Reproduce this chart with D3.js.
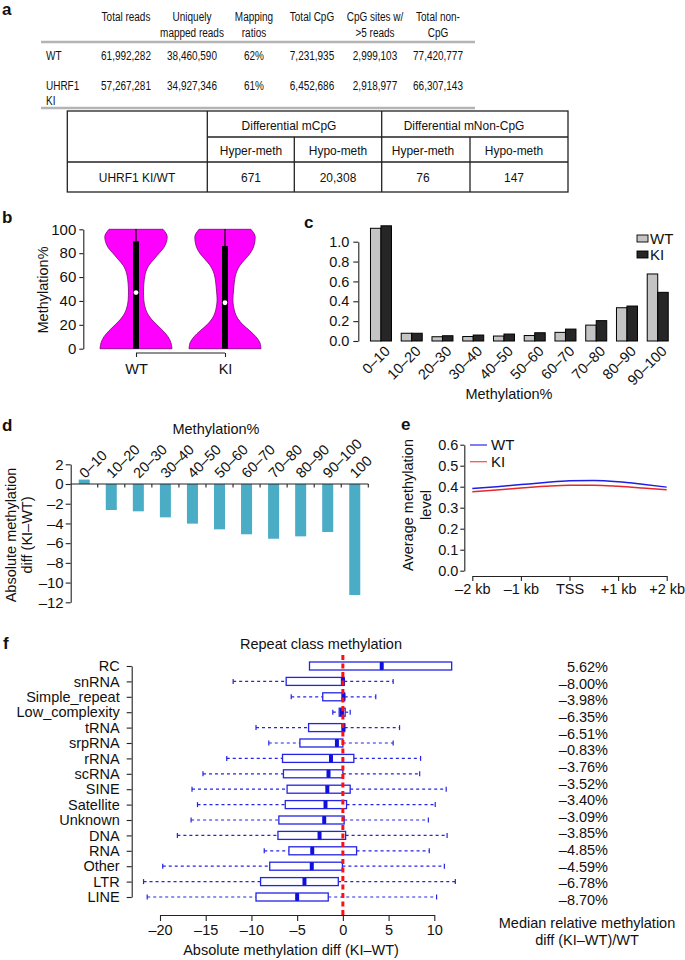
<!DOCTYPE html>
<html><head><meta charset="utf-8">
<script src="https://cdn.jsdelivr.net/npm/d3@7"></script>
<style>
body{margin:0;background:#fff}
svg{display:block;font-family:"Liberation Sans",Arial,Helvetica,sans-serif}
</style>
</head><body>
<svg id="c" width="685" height="960"></svg>
<script>
// ---------------- DATA ----------------
// Panel a: summary tables
const tableHeaders = [["Total reads"], ["Uniquely", "mapped reads"], ["Mapping", "ratios"], ["Total CpG"], ["CpG sites w/", ">5 reads"], ["Total non-", "CpG"]];
const tableWT = ["61,992,282", "38,460,590", "62%", "7,231,935", "2,999,103", "77,420,777"];
const tableKI = ["57,267,281", "34,927,346", "61%", "6,452,686", "2,918,977", "66,307,143"];
const diffGroups = ["Differential mCpG", "Differential mNon-CpG"];
const diffSub = ["Hyper-meth", "Hypo-meth", "Hyper-meth", "Hypo-meth"];
const diffRowLabel = "UHRF1 KI/WT";
const diffCounts = ["671", "20,308", "76", "147"];

// Panel b: violins (relative density profile along methylation %)
const violinGroups = ["WT", "KI"];
const violinLevels = [0, 5, 10, 15, 20, 25, 30, 35, 40, 50, 60, 65, 70, 75, 80, 85, 90, 95, 100];
const violinWT = [1.00, 0.97, 0.89, 0.75, 0.58, 0.42, 0.31, 0.25, 0.22, 0.21, 0.24, 0.28, 0.36, 0.50, 0.64, 0.78, 0.85, 0.86, 0.75];
const violinKI = [1.00, 0.97, 0.86, 0.69, 0.50, 0.36, 0.28, 0.24, 0.22, 0.24, 0.28, 0.33, 0.42, 0.56, 0.70, 0.79, 0.83, 0.83, 0.72];
const violinQ3 = [90, 86];
const violinMedian = [47, 38.5];
const violinMax = [100, 100];

// Panel c: methylation distribution
const histCats = ["0–10", "10–20", "20–30", "30–40", "40–50", "50–60", "60–70", "70–80", "80–90", "90–100"];
const histWT = [1.135, 0.078, 0.043, 0.045, 0.050, 0.055, 0.087, 0.160, 0.335, 0.675];
const histKI = [1.160, 0.078, 0.053, 0.060, 0.070, 0.083, 0.120, 0.205, 0.352, 0.490];
const histTicks = [0, 0.2, 0.4, 0.6, 0.8, 1.0];

// Panel d: absolute methylation difference
const diffCats = ["0–10", "10–20", "20–30", "30–40", "40–50", "50–60", "60–70", "70–80", "80–90", "90–100", "100"];
const diffVals = [0.45, -2.64, -2.77, -3.38, -4.02, -4.60, -5.10, -5.55, -5.31, -4.87, -11.26];
const diffTicks = [2, 0, -2, -4, -6, -8, -10, -12];

// Panel e: TSS profile
const profilePos = [-2, -1.5, -1, -0.5, 0, 0.5, 1, 1.5, 2];
const profileWT = [0.392, 0.400, 0.410, 0.420, 0.428, 0.430, 0.424, 0.412, 0.398];
const profileKI = [0.376, 0.384, 0.394, 0.402, 0.407, 0.407, 0.402, 0.394, 0.385];
const profileTickPos = [-2, -1, 0, 1, 2];
const profileTickLabels = ["–2 kb", "–1 kb", "TSS", "+1 kb", "+2 kb"];
const profileYTicks = [0, 0.1, 0.2, 0.3, 0.4, 0.5, 0.6];

// Panel f: repeat class box plots
const repeatClasses = ["RC", "snRNA", "Simple_repeat", "Low_complexity", "tRNA", "srpRNA", "rRNA", "scRNA", "SINE", "Satellite", "Unknown", "DNA", "RNA", "Other", "LTR", "LINE"];
const repeatLo  = [-3.65, -12.0, -5.65, -1.1, -9.5, -8.1, -12.7, -15.3, -16.5, -15.9, -16.6, -18.1, -8.6, -19.7, -21.8, -21.4];
const repeatQ1  = [-3.65, -6.2, -2.2, -0.4, -3.75, -4.7, -6.6, -6.5, -6.1, -6.3, -7.0, -7.1, -5.9, -8.0, -9.0, -9.5];
const repeatMed = [4.25, 0.0, 0.05, -0.1, 0.05, -0.65, -1.3, -1.57, -1.7, -1.9, -2.04, -2.55, -3.35, -3.4, -4.2, -5.0];
const repeatQ3  = [11.9, 0.15, 0.2, 0.25, 0.2, 0.0, 1.2, 0.0, 0.8, 0.4, 0.14, 0.3, 1.5, -0.05, -0.5, -1.6];
const repeatHi  = [11.9, 5.5, 3.6, 0.8, 6.2, 5.5, 8.5, 8.4, 11.3, 10.1, 9.35, 11.4, 9.45, 11.1, 12.3, 10.25];
const repeatPct = ["5.62%", "–8.00%", "–3.98%", "–6.35%", "–6.51%", "–0.83%", "–3.76%", "–3.52%", "–3.40%", "–3.09%", "–3.85%", "–4.85%", "–4.59%", "–6.78%", "–8.70%"];
const repeatTicks = [-20, -15, -10, -5, 0, 5, 10];

// ---------------- HELPERS ----------------
const svg = d3.select("#c");
svg.append("rect").attr("width", 685).attr("height", 960).attr("fill", "#fff");
const FS = 14.5;
const INK = "#111";
const dash = v => v < 0 ? "–" + Math.abs(v) : String(v);

function text(g, x, y, s, o = {}) {
  const t = g.append("text").attr("x", x).attr("y", y).text(s)
    .attr("font-size", o.size || FS).attr("fill", o.fill || INK)
    .attr("text-anchor", o.anchor || "start");
  if (o.weight) t.attr("font-weight", o.weight);
  return t;
}
function ctext(g, x, y, s, size, sx, anchor) {
  return g.append("text").attr("transform", `translate(${x},${y}) scale(${sx},1)`)
    .attr("font-size", size).attr("fill", INK).attr("text-anchor", anchor || "middle").text(s);
}
function rtext(g, x, y, s, rot, anchor, size) {
  return g.append("text").attr("transform", `translate(${x},${y}) rotate(${rot})`)
    .attr("font-size", size || FS).attr("fill", INK).attr("text-anchor", anchor || "middle").text(s);
}
function styleAxis(g) {
  g.attr("font-family", null).attr("font-size", FS).attr("color", INK);
  g.selectAll("line,path").attr("stroke", "#222").attr("stroke-width", 1.1);
}
function panelLabel(x, y, s) { text(svg, x, y, s, { size: 17, weight: "bold" }); }

// ---------------- PANEL A ----------------
panelLabel(2, 15, "a");
const ga = svg.append("g");
const colX = [126, 192, 254, 312, 375, 438];
tableHeaders.forEach((h, i) => h.forEach((line, j) => ctext(ga, colX[i], 21 + j * 15.5, line, 13.5, 0.74)));
ga.append("line").attr("x1", 41).attr("x2", 475).attr("y1", 42).attr("y2", 42).attr("stroke", "#b4b4b4").attr("stroke-width", 2.5);
ctext(ga, 46, 60, "WT", 13.5, 0.74, "start");
ctext(ga, 46, 90, "UHRF1", 13.5, 0.74, "start");
ctext(ga, 46, 104.5, "KI", 13.5, 0.74, "start");
tableWT.forEach((v, i) => ctext(ga, colX[i], 60, v, 13.5, 0.74));
tableKI.forEach((v, i) => ctext(ga, colX[i], 90, v, 13.5, 0.74));
ga.append("line").attr("x1", 41).attr("x2", 475).attr("y1", 108).attr("y2", 108).attr("stroke", "#b4b4b4").attr("stroke-width", 2.5);

// lower table
const gt = svg.append("g").attr("stroke", "#222").attr("stroke-width", 1.3);
const tx0 = 67.3, tx1 = 568, ty0 = 111, ty1 = 192;
const colB = [207.3, 294.3, 381.7, 470];
gt.append("rect").attr("x", tx0).attr("y", ty0).attr("width", tx1 - tx0).attr("height", ty1 - ty0).attr("fill", "none");
gt.append("line").attr("x1", colB[0]).attr("x2", tx1).attr("y1", 137).attr("y2", 137);
gt.append("line").attr("x1", tx0).attr("x2", tx1).attr("y1", 162).attr("y2", 162);
[colB[0], colB[2]].forEach(x => gt.append("line").attr("x1", x).attr("x2", x).attr("y1", ty0).attr("y2", ty1));
[colB[1], colB[3]].forEach(x => gt.append("line").attr("x1", x).attr("x2", x).attr("y1", 137).attr("y2", ty1));
const subX = [251, 338, 423, 514];
ctext(svg, 289, 130, diffGroups[0], 13, 0.92);
ctext(svg, 464, 130, diffGroups[1], 13, 0.92);
diffSub.forEach((s, i) => ctext(svg, subX[i], 154.5, s, 13, 0.92));
ctext(svg, 137, 181.5, diffRowLabel, 13, 0.92);
diffCounts.forEach((s, i) => ctext(svg, subX[i], 181.5, s, 13, 0.92));

// ---------------- PANEL B ----------------
panelLabel(2, 223, "b");
const gb = svg.append("g");
const yB = d3.scaleLinear().domain([0, 100]).range([348.7, 229.3]);
const xB = d3.scalePoint().domain(violinGroups).range([136, 225]);
const wB = d3.scaleLinear().domain([0, 1]).range([0, 36]);
[violinWT, violinKI].forEach((dens, gi) => {
  const cx = xB(violinGroups[gi]);
  const pts = violinLevels.map((lv, k) => ({ lv, d: dens[k] }));
  const area = d3.area().curve(d3.curveCatmullRom)
    .y(p => yB(p.lv)).x0(p => cx - wB(p.d)).x1(p => cx + wB(p.d));
  gb.append("path").attr("d", area(pts)).attr("fill", "#ff00ff").attr("stroke", "#7a007a").attr("stroke-width", 0.8);
  gb.append("line").attr("x1", cx).attr("x2", cx).attr("y1", yB(violinMax[gi])).attr("y2", yB(violinQ3[gi])).attr("stroke", "#000").attr("stroke-width", 1.2);
  gb.append("rect").attr("x", cx - 3).attr("width", 6).attr("y", yB(violinQ3[gi])).attr("height", yB(0) - yB(violinQ3[gi])).attr("fill", "#000");
  gb.append("circle").attr("cx", cx).attr("cy", yB(violinMedian[gi])).attr("r", 2.4).attr("fill", "#fff");
});
gb.append("g").attr("transform", "translate(83.3,0)")
  .call(d3.axisLeft(yB).tickValues([0, 20, 40, 60, 80, 100]).tickSize(4).tickPadding(3).tickSizeOuter(0))
  .call(styleAxis).attr("font-size", 15);
gb.append("g").attr("transform", "translate(0,353)")
  .call(d3.axisBottom(xB).tickSize(4).tickPadding(7).tickSizeOuter(0))
  .call(styleAxis).call(g => g.select(".domain").attr("d", `M${xB("WT")},0H${xB("KI")}`));
rtext(gb, 48, 290, "Methylation%", -90);

// ---------------- PANEL C ----------------
panelLabel(304, 227.7, "c");
const gc = svg.append("g");
const yC = d3.scaleLinear().domain([0, 1.0]).range([341, 241.7]);
const xC = d3.scaleBand().domain(histCats).range([365.6, 673.1]).paddingInner(0.317).paddingOuter(0.1585);
const xCs = d3.scaleBand().domain(["WT", "KI"]).range([0, xC.bandwidth()]);
const histSeries = [{ key: "WT", vals: histWT, fill: "#c4c4c4" }, { key: "KI", vals: histKI, fill: "#262626" }];
histSeries.forEach(s => {
  gc.selectAll(null).data(histCats).enter().append("rect")
    .attr("x", c => xC(c) + xCs(s.key)).attr("width", xCs.bandwidth())
    .attr("y", (c, i) => yC(s.vals[i])).attr("height", (c, i) => yC(0) - yC(s.vals[i]))
    .attr("fill", s.fill).attr("stroke", "#000").attr("stroke-width", 1);
});
gc.append("g").attr("transform", "translate(358.3,0)")
  .call(d3.axisLeft(yC).tickValues(histTicks).tickFormat(d3.format(".1f")).tickSize(5).tickPadding(4).tickSizeOuter(0))
  .call(styleAxis);
histCats.forEach(c => rtext(gc, xC(c) + xC.bandwidth() / 2 + 10, 352, c, -45, "end"));
text(gc, 509, 399, "Methylation%", { anchor: "middle" });
histSeries.forEach((s, i) => {
  gc.append("rect").attr("x", 637).attr("y", 235 + i * 16).attr("width", 11).attr("height", 7)
    .attr("fill", s.fill).attr("stroke", "#000").attr("stroke-width", 0.9);
  text(gc, 650, 243.5 + i * 16, s.key, { size: 15 });
});

// ---------------- PANEL D ----------------
panelLabel(2, 430.7, "d");
const gd = svg.append("g");
const yD = d3.scaleLinear().domain([-12, 2]).range([602.3, 464.3]);
const xD = d3.scaleBand().domain(diffCats).range([70.7, 368.3]).paddingInner(0.593).paddingOuter(0.2965);
gd.selectAll(null).data(diffCats).enter().append("rect")
  .attr("x", c => xD(c)).attr("width", xD.bandwidth())
  .attr("y", (c, i) => yD(Math.max(0, diffVals[i]))).attr("height", (c, i) => Math.abs(yD(diffVals[i]) - yD(0)))
  .attr("fill", "#4bacc6");
gd.append("g").attr("transform", "translate(70.7,0)")
  .call(d3.axisLeft(yD).tickValues(diffTicks).tickFormat(dash).tickSize(5).tickPadding(2).tickSizeOuter(0))
  .call(styleAxis).attr("font-size", 15);
// top category axis along zero line, ticks at band boundaries
const d0 = yD(0);
gd.append("line").attr("x1", 70.7).attr("x2", 368.3).attr("y1", d0).attr("y2", d0).attr("stroke", "#222").attr("stroke-width", 1.1);
diffCats.forEach(c => {
  const edge = xD(c) + xD.bandwidth() / 2 + xD.step() / 2;
  gd.append("line").attr("x1", edge).attr("x2", edge).attr("y1", d0).attr("y2", d0 + 3.5).attr("stroke", "#222").attr("stroke-width", 1.1);
  rtext(gd, xD(c) + xD.bandwidth() / 2 + 1, 479, c, -45, "start");
});
text(gd, 216, 434, "Methylation%", { anchor: "middle" });
rtext(gd, 16, 535, "Absolute methylation", -90);
rtext(gd, 32, 535, "diff (KI–WT)", -90);

// ---------------- PANEL E ----------------
panelLabel(401, 430, "e");
const ge = svg.append("g");
const xE = d3.scaleLinear().domain([-2, 2]).range([472.3, 666.7]);
const yE = d3.scaleLinear().domain([0, 0.6]).range([570.7, 444.7]);
const lineE = vals => d3.line().curve(d3.curveMonotoneX).x((p, i) => xE(profilePos[i])).y(v => yE(v))(vals);
ge.append("path").attr("d", lineE(profileWT)).attr("fill", "none").attr("stroke", "#1e1ee6").attr("stroke-width", 1.5);
ge.append("path").attr("d", lineE(profileKI)).attr("fill", "none").attr("stroke", "#e8262b").attr("stroke-width", 1.5);
ge.append("g").attr("transform", "translate(464.3,0)")
  .call(d3.axisLeft(yE).tickValues(profileYTicks).tickFormat(d3.format(".1f")).tickSize(4).tickPadding(2).tickSizeOuter(0))
  .call(styleAxis);
ge.append("g").attr("transform", "translate(0,576)")
  .call(d3.axisBottom(xE).tickValues(profileTickPos).tickFormat((d, i) => profileTickLabels[i]).tickSize(5).tickPadding(3).tickSizeOuter(0))
  .call(styleAxis);
[["WT", "#3a3ae8"], ["KI", "#ee5a5a"]].forEach(([k, col], i) => {
  const y = 445 + i * 16.7;
  ge.append("line").attr("x1", 470).attr("x2", 487).attr("y1", y).attr("y2", y).attr("stroke", col).attr("stroke-width", 1.3);
  text(ge, 491, y + 5, k, { size: 15 });
});
rtext(ge, 413, 505, "Average methylation", -90);
rtext(ge, 431, 505, "level", -90);

// ---------------- PANEL F ----------------
panelLabel(3, 649, "f");
const gf = svg.append("g");
const xF = d3.scaleLinear().domain([-20, 10]).range([160, 434.3]);
const yF = d3.scalePoint().domain(repeatClasses).range([666, 897]);
const yPct = d3.scalePoint().domain(d3.range(repeatPct.length)).range([667, 900]);
text(gf, 321, 649, "Repeat class methylation", { anchor: "middle" });
const blue = "#2424e6";
repeatClasses.forEach((c, i) => {
  const y = yF(c);
  if (repeatLo[i] < repeatQ1[i]) {
    gf.append("line").attr("x1", xF(repeatLo[i])).attr("x2", xF(repeatQ1[i])).attr("y1", y).attr("y2", y)
      .attr("stroke", blue).attr("stroke-width", 1.2).attr("stroke-dasharray", "3,3");
    gf.append("line").attr("x1", xF(repeatLo[i])).attr("x2", xF(repeatLo[i])).attr("y1", y - 2.5).attr("y2", y + 2.5).attr("stroke", blue).attr("stroke-width", 1.2);
  }
  if (repeatHi[i] > repeatQ3[i]) {
    gf.append("line").attr("x1", xF(repeatQ3[i])).attr("x2", xF(repeatHi[i])).attr("y1", y).attr("y2", y)
      .attr("stroke", blue).attr("stroke-width", 1.2).attr("stroke-dasharray", "3,3");
    gf.append("line").attr("x1", xF(repeatHi[i])).attr("x2", xF(repeatHi[i])).attr("y1", y - 2.5).attr("y2", y + 2.5).attr("stroke", blue).attr("stroke-width", 1.2);
  }
  gf.append("rect").attr("x", xF(repeatQ1[i])).attr("width", Math.max(1, xF(repeatQ3[i]) - xF(repeatQ1[i])))
    .attr("y", y - 4).attr("height", 8).attr("fill", "#fff").attr("stroke", blue).attr("stroke-width", 1.3);
  gf.append("rect").attr("x", xF(repeatMed[i]) - 2).attr("width", 4).attr("y", y - 4).attr("height", 8).attr("fill", "#1010dd").attr("rx", 1);
});
repeatPct.forEach((p, i) => text(gf, 608, yPct(i) + 5, p, { anchor: "end" }));
gf.append("line").attr("x1", xF(0)).attr("x2", xF(0)).attr("y1", 655).attr("y2", 916)
  .attr("stroke", "#ff1010").attr("stroke-width", 3).attr("stroke-dasharray", "5,3.5");
gf.append("g").attr("transform", "translate(131.7,0)")
  .call(d3.axisLeft(yF).tickSize(5).tickPadding(7).tickSizeOuter(0))
  .call(styleAxis);
gf.append("g").attr("transform", "translate(0,915)")
  .call(d3.axisBottom(xF).tickValues(repeatTicks).tickFormat(dash).tickSize(6).tickPadding(4).tickSizeOuter(0))
  .call(styleAxis);
text(gf, 291, 955, "Absolute methylation diff (KI–WT)", { anchor: "middle" });
text(gf, 587, 928, "Median relative methylation", { anchor: "middle" });
text(gf, 587, 945, "diff (KI–WT)/WT", { anchor: "middle" });
</script>
</body></html>
